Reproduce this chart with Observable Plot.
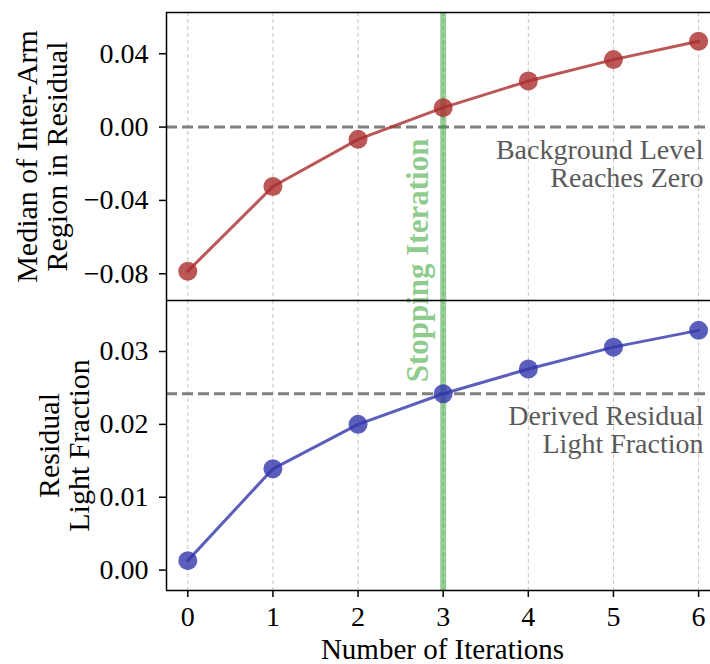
<!DOCTYPE html>
<html>
<head>
<meta charset="utf-8">
<script src="https://cdn.jsdelivr.net/npm/d3@7"></script>
<script src="https://cdn.jsdelivr.net/npm/@observablehq/plot@0.6"></script>
<style>
  body { margin: 0; background: #fff; }
  #chart { position: relative; width: 710px; height: 664px; overflow: hidden; background: #fff; }
  #chart svg { display: block; background: transparent; max-width: none; }
  #chart svg.upper { position: relative; z-index: 2; overflow: visible; }
</style>
</head>
<body>
<div id="chart"></div>
<script>
// Iteration counts and the two diagnostics tracked per iteration
const iterations = [0, 1, 2, 3, 4, 5, 6];
const interArmMedian = [-0.0786, -0.0324, -0.0067, 0.0106, 0.0251, 0.0368, 0.0468];
const residualFraction = [0.0013, 0.0139, 0.0200, 0.0242, 0.0276, 0.0306, 0.0329];

// Reference levels
const stoppingIteration = 3;
const backgroundTarget = 0;
const derivedFraction = 0.0242;

// Axis ticks and extents
const xTicks = [0, 1, 2, 3, 4, 5, 6];
const upperTicks = [-0.08, -0.04, 0.0, 0.04];
const lowerTicks = [0.0, 0.01, 0.02, 0.03];
const xDomain = [-0.25, 6.14];
const upperDomain = [-0.0946, 0.0625];
const lowerDomain = [-0.0028, 0.037];

const upperData = iterations.map((it, i) => ({it, v: interArmMedian[i]}));
const lowerData = iterations.map((it, i) => ({it, v: residualFraction[i]}));

const serif = "'Liberation Serif', 'Times New Roman', serif";
const red = "rgb(170,45,45)";
const blue = "rgb(50,55,170)";
const green = "#2ca02c";
const fmt = d3.format(".2f");

const shared = {
  width: 710,
  marginLeft: 166,
  marginRight: 0,
  style: {fontFamily: serif, fontSize: "28px", color: "black", background: "transparent"},
  x: {domain: xDomain, axis: null}
};

const grid = () => Plot.gridX(xTicks, {stroke: "#c4c4c4", strokeOpacity: 1, strokeWidth: 1, strokeDasharray: "4,3"});
const stopBand = () => Plot.ruleX([stoppingIteration], {stroke: green, strokeOpacity: 0.5, strokeWidth: 6});
const refLine = (value) => Plot.ruleY([value], {stroke: "#7f7f7f", strokeWidth: 3, strokeDasharray: "11,5"});
const spine = (values, dim) => dim === "x"
  ? Plot.ruleX(values, {stroke: "black", strokeWidth: 1.5})
  : Plot.ruleY(values, {stroke: "black", strokeWidth: 1.5});

const upper = Plot.plot({
  ...shared,
  height: 300,
  marginTop: 12,
  marginBottom: 0,
  y: {domain: upperDomain, axis: null},
  marks: [
    grid(),
    refLine(backgroundTarget),
    stopBand(),
    Plot.line(upperData, {x: "it", y: "v", stroke: red, strokeOpacity: 0.8, strokeWidth: 3}),
    Plot.dot(upperData, {x: "it", y: "v", r: 9.5, fill: red, fillOpacity: 0.8}),
    Plot.text(["Background Level\nReaches Zero"], {
      y: () => backgroundTarget, frameAnchor: "right", textAnchor: "end", lineAnchor: "top",
      dx: -7, dy: 12, lineHeight: 1.0, fontSize: 28, fill: "#5a5a5a"
    }),
    Plot.text(["Stopping Iteration"], {
      x: () => stoppingIteration, frameAnchor: "bottom", rotate: -90, textAnchor: "middle",
      dx: -15, dy: -40, fontSize: 31, fontWeight: "bold", fill: green, fillOpacity: 0.55
    }),
    Plot.axisY(upperTicks, {tickSize: 7, tickPadding: 11, tickFormat: fmt, label: null, strokeWidth: 1.5}),
    Plot.text(["Median of Inter-Arm\nRegion in Residual"], {
      frameAnchor: "left", rotate: -90, textAnchor: "middle", lineAnchor: "middle",
      dx: -124, lineHeight: 1.0, fontSize: 30
    }),
    spine([xDomain[0]], "x"),
    spine(upperDomain, "y")
  ]
});
upper.classList.add("upper");

const lower = Plot.plot({
  ...shared,
  height: 364,
  marginTop: 0,
  marginBottom: 74,
  y: {domain: lowerDomain, axis: null},
  marks: [
    grid(),
    refLine(derivedFraction),
    stopBand(),
    Plot.line(lowerData, {x: "it", y: "v", stroke: blue, strokeOpacity: 0.8, strokeWidth: 3}),
    Plot.dot(lowerData, {x: "it", y: "v", r: 9.5, fill: blue, fillOpacity: 0.8}),
    Plot.text(["Derived Residual\nLight Fraction"], {
      y: () => derivedFraction, frameAnchor: "right", textAnchor: "end", lineAnchor: "top",
      dx: -7, dy: 11, lineHeight: 1.0, fontSize: 28, fill: "#5a5a5a"
    }),
    Plot.axisY(lowerTicks, {tickSize: 7, tickPadding: 11, tickFormat: fmt, label: null, strokeWidth: 1.5}),
    Plot.axisX(xTicks, {tickSize: 7, tickPadding: 9, tickFormat: d3.format("d"), label: null, strokeWidth: 1.5}),
    Plot.text(["Residual\nLight Fraction"], {
      frameAnchor: "left", rotate: -90, textAnchor: "middle", lineAnchor: "middle",
      dx: -102, lineHeight: 1.0, fontSize: 30
    }),
    Plot.text(["Number of Iterations"], {
      frameAnchor: "bottom", textAnchor: "middle", lineAnchor: "middle",
      dx: 4, dy: 59, fontSize: 29
    }),
    spine([xDomain[0]], "x"),
    spine([lowerDomain[0]], "y")
  ]
});

const chart = document.getElementById("chart");
chart.append(upper, lower);
</script>
</body>
</html>
